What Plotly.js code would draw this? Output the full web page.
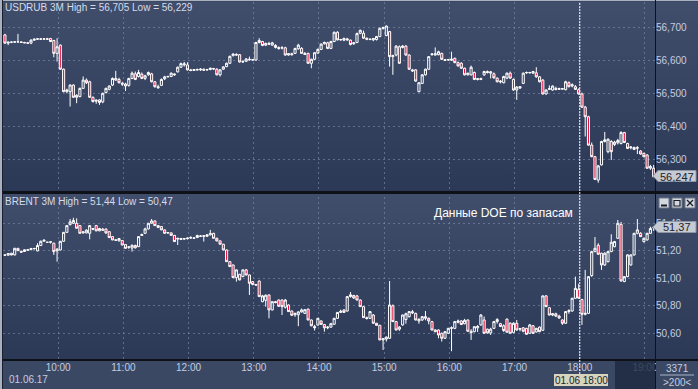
<!DOCTYPE html>
<html><head><meta charset="utf-8">
<script src="https://cdn.plot.ly/plotly-3.0.1.min.js"></script>
<style>
html,body{margin:0;padding:0;background:#3a4763;}
#wrap{position:relative;width:698px;height:389px;overflow:hidden;}
.bg{position:absolute;}
#chart{position:absolute;left:0;top:0;width:698px;height:389px;}
</style></head><body>
<div id="wrap">
 <div class="bg" style="left:0;top:0;width:698px;height:389px;background:#3b4864"></div>
 <div class="bg" style="left:0;top:2px;width:698px;height:189px;background:linear-gradient(#414e6b,#2c3956)"></div>
 <div class="bg" style="left:0;top:191px;width:698px;height:3px;background:#0e1118"></div>
 <div class="bg" style="left:0;top:194px;width:698px;height:165px;background:linear-gradient(#414e6b,#2c3956)"></div>
 <div class="bg" style="left:0;top:359px;width:698px;height:2px;background:#0e1118"></div>
 <div class="bg" style="left:0;top:0;width:698px;height:1px;background:#a9b1c0"></div>
 <div class="bg" style="left:0;top:0;width:2px;height:389px;background:#a9b1c0"></div>
 <div class="bg" style="left:2px;top:0;width:1px;height:389px;background:#1a2030"></div>
 <div class="bg" style="left:655px;top:0;width:1px;height:389px;background:#0e1118"></div>
 <div id="chart"></div>
</div>
<script>
// ---- data ----
const startTime = '2017-06-01 09:11';
const stepMinutes = 3;

const rubOpen = [
56.677,56.652,56.655,56.655,56.656,56.656,56.654,56.653,56.652,56.661,
56.664,56.665,56.664,56.665,56.666,56.660,56.621,56.646,56.573,56.505,
56.505,56.525,56.488,56.490,56.515,56.540,56.535,56.488,56.476,56.480,
56.474,56.502,56.512,56.525,56.540,56.542,56.530,56.528,56.524,56.545,
56.559,56.551,56.558,56.545,56.556,56.559,56.535,56.520,56.524,56.544,
56.550,56.551,56.556,56.565,56.579,56.586,56.586,56.571,56.569,56.572,
56.571,56.573,56.571,56.572,56.575,56.573,56.556,56.573,56.581,56.591,
56.614,56.618,56.617,56.595,56.597,56.603,56.602,56.601,56.654,56.657,
56.646,56.651,56.646,56.645,56.639,56.637,56.638,56.616,56.620,56.621,
56.635,56.636,56.621,56.621,56.591,56.603,56.622,56.633,56.650,56.653,
56.636,56.657,56.685,56.662,56.661,56.665,56.661,56.650,56.654,56.682,
56.682,56.667,56.664,56.662,56.663,56.672,56.697,56.675,56.687,56.611,
56.616,56.641,56.639,56.643,56.616,56.571,56.571,56.505,56.530,56.556,
56.573,56.617,56.616,56.617,56.621,56.602,56.601,56.600,56.606,56.593,
56.591,56.576,56.556,56.556,56.563,56.542,56.545,56.556,56.566,56.561,
56.559,56.546,56.537,56.532,56.546,56.561,56.542,56.510,56.516,56.530,
56.562,56.562,56.561,56.562,56.550,56.540,56.498,56.512,56.510,56.515,
56.512,56.514,56.511,56.532,56.522,56.520,56.511,56.498,56.458,56.429,
56.343,56.308,56.237,56.283,56.354,56.323,56.354,56.345,56.350,56.348,
56.381,56.348,56.335,56.336,56.335,56.325,56.318,56.313,56.273,56.273];
const rubHigh = [
56.680,56.656,56.657,56.658,56.680,56.657,56.656,56.655,56.664,56.666,
56.667,56.667,56.667,56.668,56.668,56.662,56.667,56.648,56.575,56.514,
56.527,56.527,56.497,56.517,56.551,56.545,56.538,56.490,56.481,56.482,
56.502,56.517,56.524,56.548,56.568,56.547,56.535,56.532,56.547,56.566,
56.566,56.571,56.563,56.556,56.566,56.562,56.537,56.526,56.545,56.553,
56.553,56.563,56.560,56.581,56.593,56.595,56.594,56.574,56.573,56.575,
56.576,56.575,56.574,56.578,56.577,56.576,56.573,56.582,56.593,56.614,
56.621,56.621,56.619,56.600,56.607,56.611,56.604,56.656,56.667,56.659,
56.654,56.656,56.656,56.649,56.642,56.643,56.641,56.622,56.623,56.638,
56.650,56.640,56.625,56.623,56.605,56.625,56.636,56.651,56.657,56.656,
56.659,56.687,56.688,56.665,56.669,56.668,56.663,56.655,56.684,56.693,
56.690,56.669,56.667,56.667,56.674,56.699,56.702,56.705,56.689,56.617,
56.646,56.645,56.646,56.646,56.618,56.574,56.573,56.534,56.558,56.575,
56.613,56.622,56.639,56.629,56.623,56.604,56.604,56.626,56.608,56.596,
56.594,56.578,56.562,56.584,56.566,56.546,56.547,56.568,56.569,56.567,
56.563,56.548,56.540,56.553,56.563,56.566,56.545,56.522,56.522,56.563,
56.566,56.565,56.568,56.579,56.552,56.543,56.512,56.524,56.524,56.520,
56.517,56.516,56.538,56.536,56.530,56.525,56.515,56.502,56.462,56.432,
56.351,56.310,56.283,56.356,56.383,56.363,56.358,56.356,56.362,56.385,
56.383,56.350,56.340,56.338,56.340,56.328,56.320,56.315,56.283,56.283];
const rubLow = [
56.650,56.646,56.652,56.653,56.654,56.653,56.652,56.650,56.649,56.659,
56.662,56.662,56.662,56.663,56.655,56.609,56.596,56.571,56.503,56.500,
56.460,56.486,56.470,56.488,56.513,56.528,56.486,56.472,56.468,56.465,
56.470,56.500,56.509,56.522,56.538,56.530,56.522,56.507,56.520,56.543,
56.540,56.548,56.543,56.540,56.553,56.533,56.517,56.514,56.522,56.540,
56.548,56.549,56.553,56.563,56.577,56.581,56.569,56.567,56.568,56.569,
56.568,56.569,56.568,56.570,56.571,56.554,56.551,56.571,56.579,56.589,
56.612,56.615,56.593,56.592,56.595,56.599,56.599,56.599,56.651,56.643,
56.643,56.646,56.644,56.636,56.632,56.633,56.614,56.614,56.615,56.619,
56.632,56.620,56.616,56.590,56.576,56.601,56.620,56.631,56.648,56.634,
56.634,56.655,56.660,56.659,56.658,56.660,56.645,56.647,56.652,56.679,
56.665,56.661,56.661,56.658,56.660,56.670,56.693,56.673,56.581,56.556,
56.612,56.589,56.636,56.614,56.571,56.565,56.535,56.503,56.528,56.554,
56.571,56.614,56.614,56.615,56.601,56.598,56.599,56.598,56.591,56.581,
56.574,56.554,56.554,56.554,56.540,56.539,56.540,56.553,56.560,56.545,
56.544,56.533,56.530,56.530,56.543,56.544,56.508,56.480,56.513,56.528,
56.559,56.560,56.559,56.547,56.533,56.496,56.496,56.510,56.508,56.509,
56.510,56.512,56.509,56.518,56.518,56.510,56.496,56.456,56.369,56.341,
56.306,56.237,56.229,56.281,56.351,56.318,56.298,56.340,56.345,56.345,
56.349,56.331,56.330,56.328,56.316,56.314,56.306,56.271,56.268,56.247];
const rubClose = [
56.652,56.655,56.655,56.656,56.656,56.654,56.653,56.652,56.661,56.664,
56.665,56.664,56.665,56.664,56.657,56.621,56.641,56.573,56.505,56.510,
56.525,56.488,56.494,56.515,56.540,56.532,56.488,56.475,56.479,56.472,
56.500,56.515,56.522,56.545,56.545,56.532,56.528,56.522,56.545,56.561,
56.542,56.563,56.545,56.553,56.563,56.535,56.520,56.517,56.542,56.550,
56.551,56.561,56.558,56.579,56.590,56.589,56.571,56.569,56.572,56.571,
56.573,56.570,56.572,56.576,56.574,56.556,56.571,56.580,56.591,56.612,
56.619,56.616,56.595,56.596,56.604,56.602,56.601,56.654,56.660,56.645,
56.651,56.649,56.653,56.639,56.636,56.638,56.616,56.620,56.617,56.636,
56.646,56.621,56.618,56.591,56.603,56.623,56.633,56.649,56.654,56.636,
56.657,56.685,56.662,56.663,56.666,56.662,56.648,56.653,56.681,56.691,
56.667,56.664,56.663,56.666,56.672,56.697,56.699,56.704,56.611,56.614,
56.643,56.591,56.643,56.616,56.573,56.568,56.537,56.532,56.556,56.573,
56.611,56.619,56.620,56.626,56.603,56.600,56.602,56.603,56.593,56.583,
56.576,56.556,56.561,56.579,56.542,56.544,56.542,56.566,56.563,56.565,
56.547,56.535,56.535,56.551,56.561,56.546,56.510,56.519,56.520,56.561,
56.563,56.563,56.566,56.550,56.535,56.498,56.510,56.514,56.522,56.512,
56.514,56.513,56.535,56.520,56.526,56.512,56.498,56.458,56.429,56.343,
56.308,56.239,56.280,56.354,56.359,56.361,56.323,56.352,56.357,56.381,
56.351,56.333,56.337,56.330,56.334,56.316,56.308,56.273,56.278,56.247];

const brentOpen = [
51.170,51.168,51.182,51.170,51.218,51.197,51.195,51.205,51.208,51.215,
51.199,51.238,51.270,51.262,51.262,51.255,51.199,51.206,51.269,51.334,
51.390,51.400,51.400,51.383,51.330,51.330,51.327,51.362,51.383,51.345,
51.357,51.358,51.339,51.303,51.279,51.272,51.274,51.245,51.226,51.220,
51.238,51.230,51.311,51.327,51.359,51.400,51.417,51.383,51.376,51.352,
51.330,51.330,51.312,51.285,51.282,51.285,51.288,51.292,51.291,51.296,
51.308,51.305,51.305,51.316,51.327,51.291,51.272,51.248,51.206,51.121,
51.097,51.005,51.029,51.012,51.061,51.024,50.976,50.955,50.980,50.830,
50.840,50.879,50.770,50.830,50.842,50.842,50.790,50.806,50.762,50.735,
50.735,50.756,50.745,50.776,50.697,50.650,50.660,50.690,50.664,50.640,
50.645,50.666,50.709,50.752,50.770,50.762,50.867,50.875,50.872,50.842,
50.794,50.714,50.709,50.733,50.673,50.658,50.552,50.558,50.564,50.800,
50.685,50.630,50.661,50.700,50.721,50.748,50.745,50.690,50.697,50.721,
50.709,50.685,50.624,50.624,50.600,50.564,50.600,50.636,50.636,50.680,
50.690,50.670,50.697,50.615,50.612,50.640,50.661,50.697,50.630,50.603,
50.636,50.685,50.670,50.655,50.703,50.673,50.607,50.673,50.630,50.640,
50.636,50.600,50.655,50.610,50.645,50.622,50.872,50.786,50.733,50.742,
50.725,50.697,50.673,50.758,50.762,50.855,50.920,50.846,50.738,50.745,
51.020,51.194,51.240,51.182,51.097,51.121,51.194,51.230,51.291,51.392,
50.976,51.012,51.097,51.170,51.327,51.327,51.267,51.279,51.327,51.370];
const brentHigh = [
51.172,51.184,51.185,51.221,51.220,51.199,51.210,51.212,51.221,51.220,
51.255,51.274,51.281,51.264,51.269,51.258,51.220,51.272,51.335,51.385,
51.431,51.440,51.436,51.386,51.342,51.356,51.386,51.366,51.388,51.366,
51.366,51.362,51.341,51.306,51.283,51.292,51.278,51.248,51.233,51.245,
51.245,51.306,51.325,51.368,51.403,51.431,51.420,51.386,51.380,51.355,
51.336,51.334,51.315,51.295,51.293,51.292,51.296,51.306,51.295,51.317,
51.315,51.313,51.322,51.352,51.330,51.295,51.275,51.250,51.209,51.125,
51.099,51.064,51.032,51.064,51.068,51.027,50.980,50.958,50.984,50.880,
50.882,50.882,50.833,50.836,50.846,50.846,50.850,50.810,50.766,50.750,
50.760,50.780,50.776,50.780,50.700,50.662,50.712,50.694,50.668,50.652,
50.676,50.712,50.755,50.772,50.774,50.869,50.900,50.880,50.878,50.846,
50.797,50.722,50.762,50.740,50.676,50.662,50.566,50.578,50.980,50.810,
50.690,50.652,50.736,50.750,50.762,50.770,50.750,50.712,50.725,50.762,
50.715,50.690,50.630,50.628,50.605,50.616,50.640,50.650,50.690,50.700,
50.695,50.705,50.700,50.630,50.652,50.660,50.740,50.722,50.634,50.640,
50.690,50.710,50.676,50.665,50.708,50.680,50.680,50.697,50.640,50.645,
50.640,50.668,50.660,50.640,50.650,50.875,50.878,50.790,50.748,50.750,
50.735,50.702,50.762,50.775,50.858,51.012,50.960,50.850,51.061,51.015,
51.200,51.300,51.255,51.186,51.190,51.200,51.320,51.272,51.424,51.410,
51.015,51.175,51.175,51.330,51.431,51.335,51.295,51.330,51.375,51.380];
const brentLow = [
51.165,51.165,51.167,51.167,51.199,51.187,51.192,51.200,51.205,51.210,
51.197,51.235,51.266,51.258,51.253,51.170,51.121,51.203,51.266,51.331,
51.385,51.395,51.362,51.325,51.325,51.327,51.283,51.350,51.342,51.342,
51.345,51.323,51.293,51.277,51.272,51.268,51.240,51.216,51.214,51.194,
51.216,51.228,51.308,51.325,51.355,51.398,51.380,51.365,51.350,51.325,
51.322,51.310,51.265,51.242,51.278,51.280,51.282,51.289,51.286,51.293,
51.300,51.267,51.302,51.312,51.289,51.268,51.245,51.204,51.119,51.083,
51.003,50.976,50.986,51.010,51.022,50.879,50.949,50.947,50.865,50.826,
50.794,50.709,50.766,50.818,50.794,50.733,50.780,50.755,50.728,50.720,
50.652,50.750,50.740,50.695,50.651,50.620,50.656,50.661,50.612,50.630,
50.640,50.662,50.705,50.748,50.748,50.758,50.860,50.850,50.840,50.792,
50.712,50.700,50.705,50.670,50.655,50.550,50.479,50.540,50.560,50.682,
50.622,50.618,50.655,50.670,50.715,50.740,50.694,50.670,50.690,50.695,
50.665,50.622,50.608,50.564,50.540,50.560,50.596,50.470,50.630,50.672,
50.660,50.665,50.612,50.552,50.608,50.610,50.655,50.598,50.598,50.588,
50.632,50.670,50.645,50.610,50.605,50.598,50.600,50.620,50.615,50.608,
50.590,50.596,50.596,50.605,50.608,50.618,50.792,50.730,50.725,50.718,
50.705,50.661,50.668,50.742,50.758,50.850,50.852,50.661,50.730,50.740,
51.010,51.190,51.170,51.061,51.090,51.115,51.190,51.225,51.285,50.975,
50.972,51.008,51.092,51.165,51.320,51.300,51.260,51.275,51.322,51.345];
const brentClose = [
51.168,51.180,51.170,51.218,51.201,51.190,51.207,51.207,51.216,51.217,
51.238,51.269,51.277,51.262,51.265,51.194,51.211,51.269,51.334,51.383,
51.410,51.420,51.364,51.327,51.337,51.350,51.383,51.357,51.345,51.362,
51.350,51.330,51.296,51.279,51.277,51.289,51.242,51.218,51.228,51.240,
51.222,51.303,51.318,51.359,51.400,51.417,51.383,51.370,51.352,51.327,
51.333,51.312,51.267,51.290,51.290,51.288,51.292,51.296,51.293,51.311,
51.305,51.309,51.316,51.325,51.291,51.272,51.248,51.206,51.121,51.085,
51.005,51.061,50.988,51.061,51.024,50.964,50.955,50.951,50.867,50.872,
50.877,50.770,50.830,50.824,50.796,50.794,50.842,50.758,50.731,50.745,
50.756,50.770,50.772,50.697,50.655,50.640,50.709,50.665,50.640,50.645,
50.670,50.709,50.752,50.760,50.752,50.867,50.880,50.857,50.842,50.794,
50.714,50.708,50.758,50.673,50.658,50.552,50.560,50.572,50.806,50.685,
50.624,50.645,50.733,50.742,50.758,50.756,50.697,50.700,50.721,50.710,
50.690,50.624,50.612,50.588,50.564,50.612,50.636,50.640,50.685,50.690,
50.664,50.694,50.615,50.605,50.648,50.650,50.733,50.600,50.603,50.630,
50.685,50.700,50.650,50.620,50.608,50.600,50.673,50.624,50.634,50.615,
50.593,50.661,50.600,50.636,50.612,50.872,50.794,50.733,50.742,50.725,
50.712,50.673,50.758,50.765,50.855,50.927,50.855,50.738,50.745,51.012,
51.194,51.218,51.175,51.097,51.182,51.194,51.262,51.267,51.400,50.981,
51.012,51.170,51.170,51.327,51.352,51.303,51.291,51.327,51.362,51.370];

const rubTitle = 'USDRUB 3M High = 56,705 Low = 56,229';
const brentTitle = 'BRENT 3M High = 51,44 Low = 50,47';
const eventNote = 'Данные DOE по запасам';
const rubLast = '56,247';
const brentLast = '51,37';
const dateLabel = '01.06.17';
const cursorLabel = '01.06 18:00';
const countLabel = '3371';
const zoomLabel = '>200<';

// ---- time axis ----
function pad(n){return (n<10?'0':'')+n;}
const times = [];
(function(){
  const [d, hm] = startTime.split(' ');
  const [h0, m0] = hm.split(':').map(Number);
  for (let i = 0; i < rubOpen.length; i++) {
    const t = h0*60 + m0 + stepMinutes*i;
    times.push(d + ' ' + pad(Math.floor(t/60)) + ':' + pad(t%60));
  }
})();

const W = 698, H = 389;
const px = v => v / W, py = v => 1 - v / H;
const gridCol = 'rgba(125,140,172,0.62)';
const gridDash = '2px,3px';
const txtCol = '#c4cde0';
const FONT = 'Liberation Sans, Arial, sans-serif';

function candle(o,h,l,c,ya){
  return {type:'candlestick', x:times, open:o, high:h, low:l, close:c, xaxis:'x', yaxis:ya,
    increasing:{line:{color:'#ffffff', width:1}, fillcolor:'rgba(0,0,0,0)'},
    decreasing:{line:{color:'#ffffff', width:1}, fillcolor:'#e3123f'},
    whiskerwidth:0, hoverinfo:'skip', showlegend:false};
}
const data = [candle(rubOpen,rubHigh,rubLow,rubClose,'y'), candle(brentOpen,brentHigh,brentLow,brentClose,'y2')];

const shapes = [
  {type:'line', xref:'x', yref:'paper', x0:'2017-06-01 18:00', x1:'2017-06-01 18:00', y0:py(374), y1:py(3),
   line:{color:'#ffffff', width:1, dash:'2px,1px'}, layer:'above'},
  {type:'rect', xref:'paper', yref:'paper', x0:px(656), x1:px(698), y0:py(389), y1:py(361), fillcolor:'#3b4864', line:{width:0}, layer:'above'},
  {type:'rect', xref:'paper', yref:'paper', x0:px(615), x1:px(655), y0:py(389), y1:py(361), fillcolor:'rgba(31,41,63,0.82)', line:{width:0}, layer:'above'},
  {type:'line', xref:'paper', yref:'paper', x0:px(660), x1:px(694), y0:py(375), y1:py(375), line:{color:'#aab4c6', width:1}, layer:'above'},
  {type:'path', xref:'paper', yref:'paper', layer:'above',
   path:`M ${px(653)} ${py(176)} L ${px(658)} ${py(170.5)} L ${px(696)} ${py(170.5)} L ${px(696)} ${py(181.5)} L ${px(658)} ${py(181.5)} Z`,
   fillcolor:'#c6cad2', line:{color:'#8e96a6', width:1}},
  {type:'path', xref:'paper', yref:'paper', layer:'above',
   path:`M ${px(653)} ${py(227)} L ${px(658)} ${py(221.5)} L ${px(696)} ${py(221.5)} L ${px(696)} ${py(232.5)} L ${px(658)} ${py(232.5)} Z`,
   fillcolor:'#c6cad2', line:{color:'#8e96a6', width:1}},
  {type:'rect', xref:'paper', yref:'paper', x0:px(554), x1:px(608), y0:py(386), y1:py(374), fillcolor:'#d7d5bd', line:{width:0}, layer:'above'},
  {type:'rect', xref:'paper', yref:'paper', x0:px(659), x1:px(669), y0:py(208), y1:py(198), fillcolor:'#d3d7de', line:{color:'#6c7484', width:1}, layer:'above'},
  {type:'rect', xref:'paper', yref:'paper', x0:px(672), x1:px(682), y0:py(208), y1:py(198), fillcolor:'#d3d7de', line:{color:'#6c7484', width:1}, layer:'above'},
  {type:'rect', xref:'paper', yref:'paper', x0:px(685), x1:px(695), y0:py(208), y1:py(198), fillcolor:'#d3d7de', line:{color:'#6c7484', width:1}, layer:'above'},
  {type:'line', xref:'paper', yref:'paper', x0:px(661), x1:px(667), y0:py(205.5), y1:py(205.5), line:{color:'#1a1e28', width:2}, layer:'above'},
  {type:'rect', xref:'paper', yref:'paper', x0:px(674), x1:px(680), y0:py(206), y1:py(200.5), fillcolor:'rgba(0,0,0,0)', line:{color:'#1a1e28', width:1.2}, layer:'above'},
  {type:'line', xref:'paper', yref:'paper', x0:px(687), x1:px(693), y0:py(200), y1:py(206), line:{color:'#1a1e28', width:1.3}, layer:'above'},
  {type:'line', xref:'paper', yref:'paper', x0:px(687), x1:px(693), y0:py(206), y1:py(200), line:{color:'#1a1e28', width:1.3}, layer:'above'}
];

const ann = (text, x, y, xa, opts={}) => Object.assign({text, xref:'paper', yref:'paper', x:px(x), y:py(y), xanchor:xa, yanchor:'middle',
  showarrow:false, font:{family:FONT, size:10, color:'#d4dbea'}}, opts);

const annotations = [
  ann(rubTitle, 3, 8, 'left'),
  ann(brentTitle, 3, 201, 'left'),
  ann(eventNote, 575, 213, 'right', {font:{family:FONT, size:12, color:'#ffffff'}}),
  ann(dateLabel, 7, 379, 'left', {font:{family:FONT, size:10, color:txtCol}}),
  ann(rubLast, 677, 176.5, 'center', {font:{family:FONT, size:11, color:'#202430'}}),
  ann(brentLast, 677, 227.5, 'center', {font:{family:FONT, size:11, color:'#202430'}}),
  ann(cursorLabel, 581, 380.5, 'center', {font:{family:FONT, size:10, color:'#202430'}}),
  ann(countLabel, 677, 368, 'center', {font:{family:FONT, size:10, color:txtCol}}),
  ann(zoomLabel, 677, 382, 'center', {font:{family:FONT, size:10, color:txtCol}})
];

const layout = {
  width:W, height:H, margin:{l:0, r:0, t:0, b:0},
  paper_bgcolor:'rgba(0,0,0,0)', plot_bgcolor:'rgba(0,0,0,0)',
  separators:', ', showlegend:false, boxgap:0.08,
  font:{family:FONT, size:10, color:txtCol},
  xaxis:{type:'date', domain:[px(3), px(655)], range:['2017-06-01 09:09:14','2017-06-01 19:09:14'], anchor:'y2',
    tick0:'2017-06-01 10:00', dtick:3600000, tickformat:'%H:%M', ticks:'', showline:false, zeroline:false,
    showgrid:true, gridcolor:gridCol, griddash:gridDash, gridwidth:1, rangeslider:{visible:false}, fixedrange:true,
    tickfont:{family:FONT, size:10, color:txtCol}},
  yaxis:{domain:[py(191), py(2)], range:[56.2039, 56.7767], side:'right', anchor:'x', tick0:56.3, dtick:0.1,
    tickformat:'.3f', ticks:'', showline:false, zeroline:false, showgrid:true, gridcolor:gridCol, griddash:gridDash,
    tickfont:{family:FONT, size:10, color:txtCol}, fixedrange:true},
  yaxis2:{domain:[py(360), py(197)], range:[50.406, 51.591], side:'right', anchor:'x', tick0:50.6, dtick:0.2,
    tickformat:'.2f', ticks:'', showline:false, zeroline:false, showgrid:true, gridcolor:gridCol, griddash:gridDash,
    tickfont:{family:FONT, size:10, color:txtCol}, fixedrange:true},
  shapes, annotations
};

Plotly.newPlot('chart', data, layout, {staticPlot:true, displayModeBar:false});
</script>
</body></html>
